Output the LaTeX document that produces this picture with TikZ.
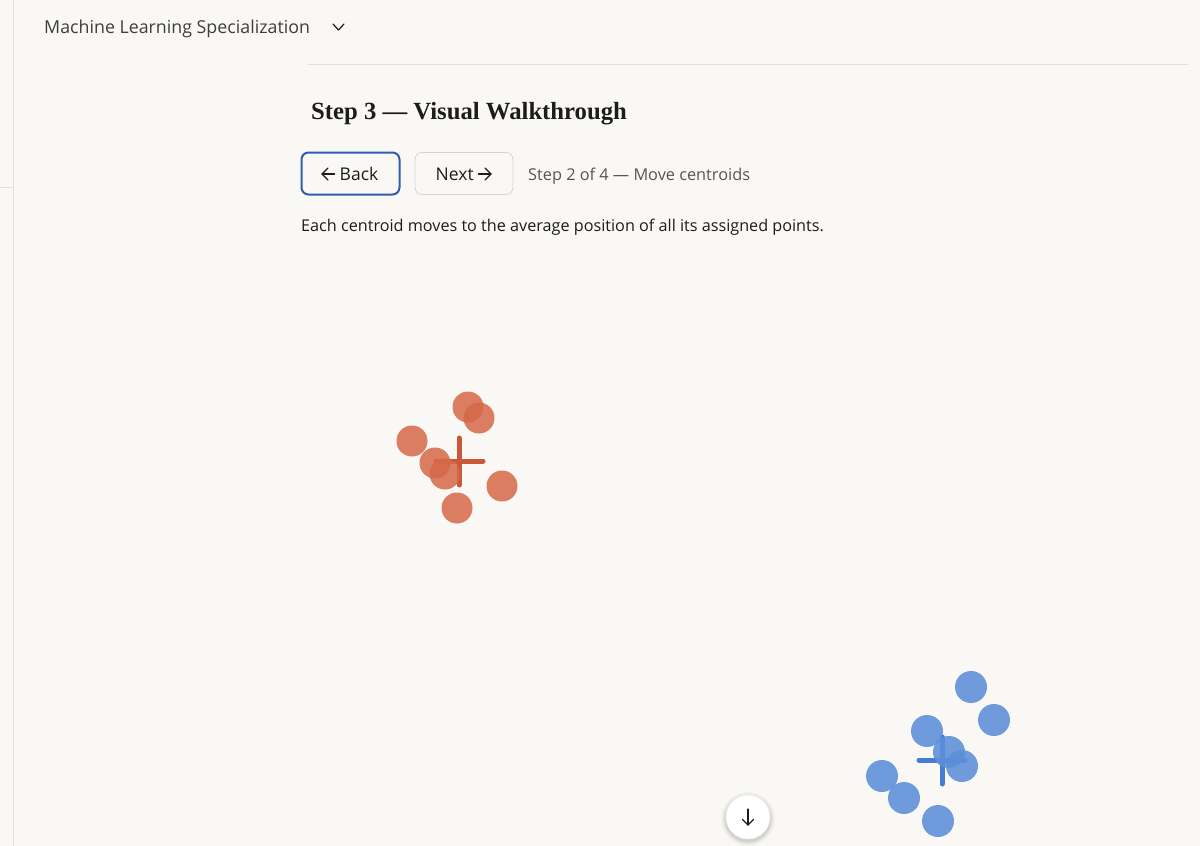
\documentclass[tikz,border=0pt]{standalone}
\usepackage{fontspec}
\setmainfont{Open Sans}
\newfontfamily\serifb{Liberation Serif}
\definecolor{bg}{RGB}{249,248,244}
\definecolor{rule}{RGB}{226,224,219}
\definecolor{ink}{RGB}{28,28,28}
\definecolor{muted}{RGB}{85,85,85}
\definecolor{btnblue}{RGB}{52,92,176}
\definecolor{btngray}{RGB}{214,212,207}
\definecolor{ptO}{RGB}{214,104,72}
\definecolor{crO}{RGB}{200,88,55}
\definecolor{ptB}{RGB}{92,143,218}
\definecolor{crB}{RGB}{70,124,210}
\tikzset{
  lbl/.style={anchor=base west, inner sep=0pt, text=ink},
  btn/.style={rounded corners=7pt, minimum width=98pt, minimum height=42pt, inner sep=0pt, fill=bg},
  arr/.style={draw=ink, line width=1.2pt, line cap=round, line join=round},
  ptOs/.style={circle, minimum size=31pt, inner sep=0pt, fill=ptO, fill opacity=0.85},
  ptBs/.style={circle, minimum size=32pt, inner sep=0pt, fill=ptB, fill opacity=0.88},
  crossO/.style={draw=crO, line width=5pt, line cap=round},
  crossB/.style={draw=crB, line width=5pt, line cap=round},
}
\begin{document}
\begin{tikzpicture}[x=1pt,y=-1pt]
\fill[bg] (0,0) rectangle (1200,846);
\useasboundingbox (0,0) rectangle (1200,846);
% frame lines
\draw[rule, line width=1pt] (13,0) -- (13,846);
\draw[rule, line width=1pt] (0,187) -- (13,187);
\draw[rule, line width=1pt] (308,64) -- (1188,64);
% header
\node[lbl, text=ink!85] (course) at (44,33.3) {\fontsize{17.8}{20}\selectfont Machine Learning Specialization};
\draw[arr] (333,24) -- (338.5,30) -- (344,24);
% title
\node[lbl] (title) at (311,119) {\serifb\bfseries\fontsize{24.7}{30}\selectfont Step 3 — Visual Walkthrough};
% buttons
\node[btn, draw=btnblue, line width=2pt] (back) at (350.5,173.5) {};
\node[lbl] (backt) at (339.5,180.3) {\fontsize{17.5}{20}\selectfont Back};
\draw[arr] (334.5,174) -- (322,174);
\draw[arr] (328,168) -- (322,174) -- (328,180);
\node[btn, draw=btngray, line width=0.8pt] (next) at (464,173.5) {};
\node[lbl] (nextt) at (435.5,180.3) {\fontsize{17.5}{20}\selectfont Next};
\draw[arr] (478.5,174) -- (491,174);
\draw[arr] (485,168) -- (491,174) -- (485,180);
\node[lbl, text=muted] (status) at (528,180) {\fontsize{16.3}{20}\selectfont Step 2 of 4 — Move centroids};
\node[lbl] (desc) at (301,231) {\fontsize{16.2}{20}\selectfont Each centroid moves to the average position of all its assigned points.};
% orange cluster
\draw[crossO] (459,438) -- (459,485);
\draw[crossO] (436,461) -- (483,461);
\node[ptOs] (o1) at (468,407) {};
\node[ptOs] (o2) at (479,418) {};
\node[ptOs] (o3) at (412,441) {};
\node[ptOs] (o4) at (435,463) {};
\node[ptOs] (o5) at (445,474) {};
\node[ptOs] (o6) at (502,486) {};
\node[ptOs] (o7) at (457,508) {};
% blue cluster
\draw[crossB] (942,737) -- (942,784);
\draw[crossB] (919,760) -- (965,760);
\node[ptBs] (b1) at (971,687) {};
\node[ptBs] (b2) at (994,720) {};
\node[ptBs] (b3) at (927,731) {};
\node[ptBs] (b4) at (949,752) {};
\node[ptBs] (b5) at (962,766) {};
\node[ptBs] (b6) at (882,776) {};
\node[ptBs] (b7) at (904,798) {};
\node[ptBs] (b8) at (938,821) {};
% scroll-down button
\foreach \r/\o in {27/0.03,25/0.05,23.5/0.07}{\fill[black, opacity=\o] (748,819) circle (\r pt);}
\node[circle, fill=white, draw=black!6, minimum size=44pt, inner sep=0pt] (down) at (748,817) {};
\draw[ink, line width=1.1pt, line cap=round] (748,809) -- (748,825);
\draw[ink, line width=1.1pt, line cap=round, line join=round] (742.5,819.5) -- (748,825) -- (753.5,819.5);
\end{tikzpicture}
\end{document}
